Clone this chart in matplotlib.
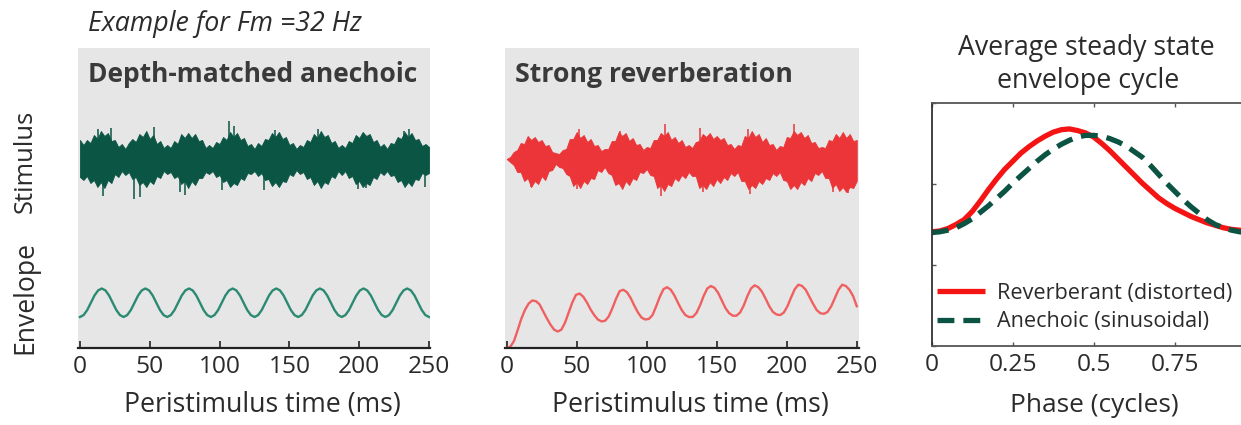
import numpy as np
import matplotlib
matplotlib.use('Agg')
import matplotlib.pyplot as plt

plt.rcParams['font.family'] = ['Open Sans', 'DejaVu Sans']

# ---------------- data ----------------
time_ticks = [0, 50, 100, 150, 200, 250]
time_ticklabels = ['0', '50', '100', '150', '200', '250']
phase_ticks = [0, 0.25, 0.5, 0.75, 1.0]
phase_ticklabels = ['0', '0.25', '0.5', '0.75', '']

# stimulus sample times (ms) and half-amplitudes (a.u.)
stim_t = np.arange(0, 250.1, 2.5)
anech_stim_up = [19, 14, 19, 16, 24, 20, 28, 23, 26, 18, 19, 12, 15, 10, 16, 20, 17, 25, 22, 28, 20, 24, 15, 18, 11,
                 14, 11, 18, 15, 25, 21, 26, 21, 25, 18, 19, 11, 14, 11, 17, 15, 22, 19, 27, 22, 26, 19, 21, 13, 15,
                 10, 16, 13, 20, 19, 26, 22, 27, 20, 22, 14, 16, 10, 14, 12, 19, 17, 25, 21, 28, 22, 24, 16, 18, 11,
                 14, 11, 18, 16, 24, 21, 27, 23, 25, 17, 19, 12, 15, 10, 16, 15, 22, 20, 27, 22, 26, 19, 20, 13, 15,
                 12]
anech_stim_lo = [18, 21, 17, 24, 21, 28, 23, 29, 21, 24, 15, 18, 12, 16, 13, 20, 18, 26, 23, 28, 22, 25, 17, 19, 12,
                 15, 13, 19, 17, 25, 22, 29, 22, 26, 19, 19, 13, 15, 12, 18, 16, 23, 21, 28, 24, 26, 19, 21, 14, 15,
                 12, 17, 14, 21, 20, 27, 23, 28, 22, 23, 15, 17, 11, 15, 13, 20, 18, 26, 22, 29, 23, 25, 17, 19, 12,
                 16, 12, 19, 17, 25, 22, 28, 24, 26, 18, 20, 13, 16, 12, 17, 16, 23, 21, 28, 23, 27, 20, 21, 14, 16,
                 14]
anech_spike_t = [13, 22.5, 53, 107, 110, 140, 170.5, 232, 236, 16.5, 39, 43, 72, 75, 102, 132, 199, 205, 247]
anech_spike_a = [30, 31, 32, 38, 33, 29, 30, 28, 30, -37, -40, -38, -33, -36, -31, -31, -30, -29, -28]

reverb_stim_up = [0, 2, 7, 9, 16, 15, 23, 19, 22, 17, 19, 13, 14, 7, 6, 5, 9, 10, 20, 20, 27, 21, 24, 17, 20,
                  13, 14, 8, 10, 10, 18, 18, 27, 23, 26, 18, 21, 14, 15, 9, 12, 11, 19, 19, 26, 23, 27, 19, 22, 16,
                  19, 12, 14, 11, 17, 18, 25, 22, 26, 20, 23, 19, 21, 14, 15, 10, 14, 13, 23, 21, 28, 22, 25, 17, 21,
                  14, 15, 9, 13, 12, 22, 21, 28, 24, 27, 21, 24, 16, 17, 11, 12, 11, 19, 18, 25, 21, 27, 21, 25, 18,
                  19]
reverb_stim_lo = [0, 3, 6, 13, 13, 22, 19, 28, 22, 25, 17, 21, 12, 11, 5, 8, 9, 15, 17, 27, 23, 29, 22, 25, 19,
                  20, 11, 13, 8, 14, 16, 26, 24, 30, 22, 26, 19, 21, 13, 14, 10, 16, 17, 29, 26, 32, 25, 27, 19, 22,
                  16, 19, 13, 17, 17, 29, 26, 30, 23, 27, 20, 24, 18, 21, 14, 17, 13, 22, 22, 30, 26, 29, 22, 25, 19,
                  21, 14, 17, 13, 21, 22, 30, 26, 30, 23, 26, 19, 22, 14, 16, 12, 19, 19, 29, 25, 32, 28, 33, 28, 29,
                  22]
reverb_spike_t = [52, 81, 113, 138, 172, 205, 17.5, 50, 110, 140, 174, 233, 244]
reverb_spike_a = [30, 28, 35, 31, 30, 35, -28, -30, -37, -33, -35, -33, -34]

# envelopes (a.u.) sampled every 1/12 of a modulation cycle (32 Hz)
env_t = np.linspace(0, 250, 97)
anech_env = [0.49, 0.52, 0.60, 0.715, 0.83, 0.91, 0.94, 0.91, 0.83, 0.715, 0.60, 0.52,
             0.49, 0.52, 0.60, 0.715, 0.83, 0.91, 0.94, 0.91, 0.83, 0.715, 0.60, 0.52,
             0.49, 0.52, 0.60, 0.715, 0.83, 0.91, 0.94, 0.91, 0.83, 0.715, 0.60, 0.52,
             0.49, 0.52, 0.60, 0.715, 0.83, 0.91, 0.94, 0.91, 0.83, 0.715, 0.60, 0.52,
             0.49, 0.52, 0.60, 0.715, 0.83, 0.91, 0.94, 0.91, 0.83, 0.715, 0.60, 0.52,
             0.49, 0.52, 0.60, 0.715, 0.83, 0.91, 0.94, 0.91, 0.83, 0.715, 0.60, 0.52,
             0.49, 0.52, 0.60, 0.715, 0.83, 0.91, 0.94, 0.91, 0.83, 0.715, 0.60, 0.52,
             0.49, 0.52, 0.60, 0.715, 0.83, 0.91, 0.94, 0.91, 0.83, 0.715, 0.60, 0.52,
             0.49]
reverb_env = [0.00, 0.02, 0.11, 0.28, 0.46, 0.60, 0.70, 0.75, 0.74, 0.69, 0.58, 0.47, 0.37,
              0.29, 0.26, 0.29, 0.40, 0.56, 0.72, 0.84, 0.86, 0.81, 0.72, 0.61, 0.52,
              0.45, 0.42, 0.43, 0.50, 0.63, 0.78, 0.90, 0.92, 0.88, 0.79, 0.67, 0.56,
              0.48, 0.45, 0.46, 0.52, 0.66, 0.81, 0.93, 0.96, 0.92, 0.83, 0.71, 0.60,
              0.52, 0.49, 0.49, 0.55, 0.67, 0.82, 0.94, 0.98, 0.95, 0.87, 0.75, 0.63,
              0.55, 0.51, 0.51, 0.56, 0.67, 0.82, 0.94, 0.99, 0.96, 0.89, 0.78, 0.66,
              0.57, 0.53, 0.52, 0.56, 0.66, 0.80, 0.93, 1.00, 0.98, 0.92, 0.81, 0.70,
              0.60, 0.55, 0.54, 0.57, 0.66, 0.79, 0.92, 1.00, 0.98, 0.92, 0.82, 0.66]

# average steady-state envelope cycle
phase = np.linspace(0, 1, 41)
cycle_reverb = [1.41, 1.42, 1.45, 1.50, 1.56, 1.66, 1.79, 1.93, 2.06, 2.18, 2.28, 2.38, 2.46, 2.53,
                2.59, 2.64, 2.67, 2.68, 2.66, 2.63, 2.58, 2.50, 2.41, 2.31, 2.21, 2.11, 2.01, 1.92,
                1.83, 1.76, 1.70, 1.65, 1.60, 1.56, 1.52, 1.49, 1.46, 1.44, 1.43, 1.42, 1.41]
cycle_anech = [1.40, 1.41, 1.43, 1.46, 1.51, 1.57, 1.65, 1.73, 1.82, 1.91, 2.01, 2.10, 2.19, 2.28,
               2.36, 2.43, 2.49, 2.54, 2.58, 2.60, 2.60, 2.59, 2.56, 2.52, 2.47, 2.40, 2.33, 2.23,
               2.12, 2.01, 1.91, 1.81, 1.72, 1.64, 1.56, 1.50, 1.46, 1.43, 1.41, 1.40, 1.40]

# ---------------- layout ----------------
W, H = 1241, 425
fig = plt.figure(figsize=(W / 100, H / 100), dpi=100)
fig.patch.set_facecolor('white')
renderer = fig.canvas.get_renderer()


def rect(l, t, r, b):
    return [l / W, 1 - b / H, (r - l) / W, (b - t) / H]


def fx(x):
    return x / W


def fy(y):
    return 1 - y / H


def fit(txt, target, vertical=False):
    bb = txt.get_window_extent(renderer)
    cur = bb.height if vertical else bb.width
    txt.set_fontsize(txt.get_fontsize() * target / cur)
    return txt


dummy = fig.text(0, 0, '250', fontsize=20)
fit(dummy, 42)
TICK_FS = dummy.get_fontsize()
dummy.remove()

TXT = '#2b2b2b'
STIM_C = 189
ENV_SCALE = 63.3

GREEN_DARK = '#0b5545'
GREEN_ENV = '#2b8a71'
RED_STIM = '#eb3538'
RED_ENV = '#f06060'

panels = [
    (rect(78, 48, 430, 348), (-1.4, 250.7), anech_stim_up, anech_stim_lo, anech_spike_t, anech_spike_a,
     anech_env, GREEN_DARK, GREEN_ENV),
    (rect(505, 48, 859, 348), (-1.2, 251.6), reverb_stim_up, reverb_stim_lo, reverb_spike_t, reverb_spike_a,
     reverb_env, RED_STIM, RED_ENV),
]
for pos, xl, up, lo, spt, spa, env, cstim, cenv in panels:
    ax = fig.add_axes(pos)
    ax.set_facecolor('#e6e6e6')
    ax.set_xlim(*xl)
    ax.set_ylim(0, 300)
    for s in ['left', 'right', 'top']:
        ax.spines[s].set_visible(False)
    ax.spines['bottom'].set_linewidth(1.6)
    ax.spines['bottom'].set_color('#222222')
    ax.set_yticks([])
    ax.set_xticks(time_ticks)
    ax.set_xticklabels(time_ticklabels)
    ax.tick_params(axis='x', direction='in', length=5, width=1.2, pad=5,
                   labelsize=TICK_FS, colors='#222222', labelcolor=TXT)
    up = np.array(up, float)
    lo = np.array(lo, float)
    ax.fill_between(stim_t, STIM_C + up, STIM_C - lo, color=cstim, lw=0.6, edgecolor=cstim)
    ax.vlines(spt, STIM_C, STIM_C + np.array(spa, float), color=cstim, lw=1.1)
    ax.plot(env_t, ENV_SCALE * np.array(env), color=cenv, lw=1.7)

# phase panel
ax3 = fig.add_axes(rect(931.7, 103, 1255.7, 346))
ax3.set_xlim(0, 1)
ax3.set_ylim(0, 3)
l_red, = ax3.plot(phase, cycle_reverb, color='#f41414', lw=3.8, solid_capstyle='butt',
                  label='Reverberant (distorted)')
l_grn, = ax3.plot(phase, cycle_anech, color='#0b5443', lw=3.8, ls=(0, (3.2, 1.7)),
                  dash_capstyle='butt', label='Anechoic (sinusoidal)')
ax3.set_xticks(phase_ticks)
ax3.set_xticklabels(phase_ticklabels)
ax3.set_yticks([0, 1, 2, 3])
ax3.set_yticklabels([])
ax3.tick_params(direction='in', top=True, right=True, length=3, width=1, pad=5,
                labelsize=TICK_FS, colors='#555555', labelcolor=TXT)
for s in ax3.spines.values():
    s.set_linewidth(1.3)
    s.set_color('#555555')
ax3.spines['left'].set_color('#333333')

# legend
dl = fig.text(0, 0, 'Reverberant (distorted)', fontsize=14)
fit(dl, 236)
LEG_FS = dl.get_fontsize()
dl.remove()
em = LEG_FS * 100 / 72
ls_val = 0.35
anchor_y = 0.05
for _ in range(3):
    leg = ax3.legend(handles=[l_red, l_grn], loc='lower left', bbox_to_anchor=(0.016, anchor_y),
                     frameon=False, fontsize=LEG_FS, handlelength=48 / em, handletextpad=12 / em,
                     labelspacing=ls_val, borderpad=0, borderaxespad=0)
    fig.canvas.draw()
    b = [t.get_window_extent(renderer) for t in leg.get_texts()]
    c1 = H - (b[0].y0 + b[0].y1) / 2
    c2 = H - (b[1].y0 + b[1].y1) / 2
    ls_val += ((322 - 293) - (c2 - c1)) / em
    anchor_y += (c2 - 322) / 243
    leg.remove()
leg = ax3.legend(handles=[l_red, l_grn], loc='lower left', bbox_to_anchor=(0.016, anchor_y),
                 frameon=False, fontsize=LEG_FS, handlelength=48 / em, handletextpad=12 / em,
                 labelspacing=ls_val, borderpad=0, borderaxespad=0)
for t in leg.get_texts():
    t.set_color(TXT)

# texts
fit(fig.text(fx(88), fy(31), 'Example for Fm =32 Hz', style='italic', va='baseline',
             color=TXT, fontsize=16), 274)
fit(fig.text(fx(88), fy(82), 'Depth-matched anechoic', weight='bold', va='baseline',
             color='#3a3a3a', fontsize=16), 330)
fit(fig.text(fx(515), fy(82), 'Strong reverberation', weight='bold', va='baseline',
             color='#3a3a3a', fontsize=16), 278)
fit(fig.text(fx(25), fy(161), 'Stimulus', rotation=90, ha='center', va='center',
             color=TXT, fontsize=18), 103, vertical=True)
fit(fig.text(fx(25), fy(298), 'Envelope', rotation=90, ha='center', va='center',
             color=TXT, fontsize=18), 113, vertical=True)
fit(fig.text(fx(262), fy(412), 'Peristimulus time (ms)', ha='center', va='baseline',
             color=TXT, fontsize=18), 277)
fit(fig.text(fx(690), fy(412), 'Peristimulus time (ms)', ha='center', va='baseline',
             color=TXT, fontsize=18), 277)
fit(fig.text(fx(1094), fy(412), 'Phase (cycles)', ha='center', va='baseline',
             color=TXT, fontsize=18), 168)
fit(fig.text(fx(1086), fy(55), 'Average steady state', ha='center', va='baseline',
             color=TXT, fontsize=16), 258)
fit(fig.text(fx(1088), fy(88), 'envelope cycle', ha='center', va='baseline',
             color=TXT, fontsize=16), 183)

fig.savefig('out.png', dpi=100, facecolor='white')
